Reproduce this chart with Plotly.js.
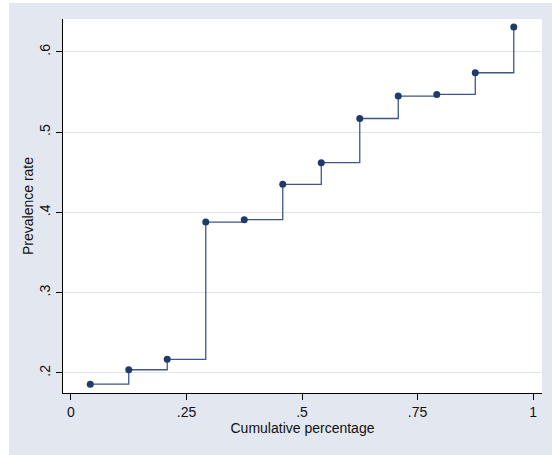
<!DOCTYPE html>
<html>
<head>
<meta charset="utf-8">
<script src="https://cdn.plot.ly/plotly-3.0.1.min.js"></script>
<style>
  html, body { margin: 0; padding: 0; background: #ffffff; }
  #chart { position: absolute; left: 9px; top: 3px; width: 543px; height: 452px; }
</style>
</head>
<body>
<div id="chart"></div>
<script>
// Data
const cumulativePercentage = [0.0417, 0.125, 0.2083, 0.2917, 0.375, 0.4583, 0.5417, 0.625, 0.7083, 0.7917, 0.875, 0.9583];
const prevalenceRate = [0.186, 0.204, 0.217, 0.388, 0.391, 0.435, 0.462, 0.517, 0.545, 0.547, 0.574, 0.631];

const xTickVals = [0, 0.25, 0.5, 0.75, 1];
const xTickText = ['0', '.25', '.5', '.75', '1'];
const yTickVals = [0.2, 0.3, 0.4, 0.5, 0.6];
const yTickText = ['.2', '.3', '.4', '.5', '.6'];

const font = { family: '"Liberation Sans", Arial, sans-serif', size: 14, color: '#111111' };

const trace = {
  x: cumulativePercentage,
  y: prevalenceRate,
  type: 'scatter',
  mode: 'lines+markers',
  line: { shape: 'hv', color: '#3d5886', width: 1.3 },
  marker: { color: '#1f3a6b', size: 7 },
  hoverinfo: 'none'
};

const layout = {
  width: 543,
  height: 452,
  paper_bgcolor: '#e3e7f0',
  plot_bgcolor: '#ffffff',
  font: font,
  showlegend: false,
  margin: { l: 54, r: 10, t: 16, b: 62, pad: 0 },
  xaxis: {
    range: [-0.0173, 1.0194],
    tickvals: xTickVals,
    ticktext: xTickText,
    ticks: 'outside',
    ticklen: 6,
    tickwidth: 1,
    tickcolor: '#000000',
    showline: true,
    linecolor: '#000000',
    linewidth: 1,
    showgrid: false,
    zeroline: false,
    tickfont: font,
    title: { text: 'Cumulative percentage', font: font, standoff: 2 }
  },
  yaxis: {
    range: [0.175, 0.641],
    tickvals: yTickVals,
    ticktext: yTickText,
    tickangle: -90,
    ticks: 'outside',
    ticklen: 6,
    tickwidth: 1,
    tickcolor: '#000000',
    showline: true,
    linecolor: '#000000',
    linewidth: 1,
    showgrid: true,
    gridcolor: '#dfe4ee',
    gridwidth: 1,
    zeroline: false,
    tickfont: font,
    title: { text: 'Prevalence rate', font: font, standoff: 0 }
  }
};

Plotly.newPlot('chart', [trace], layout, { displayModeBar: false, staticPlot: true });
</script>
</body>
</html>
